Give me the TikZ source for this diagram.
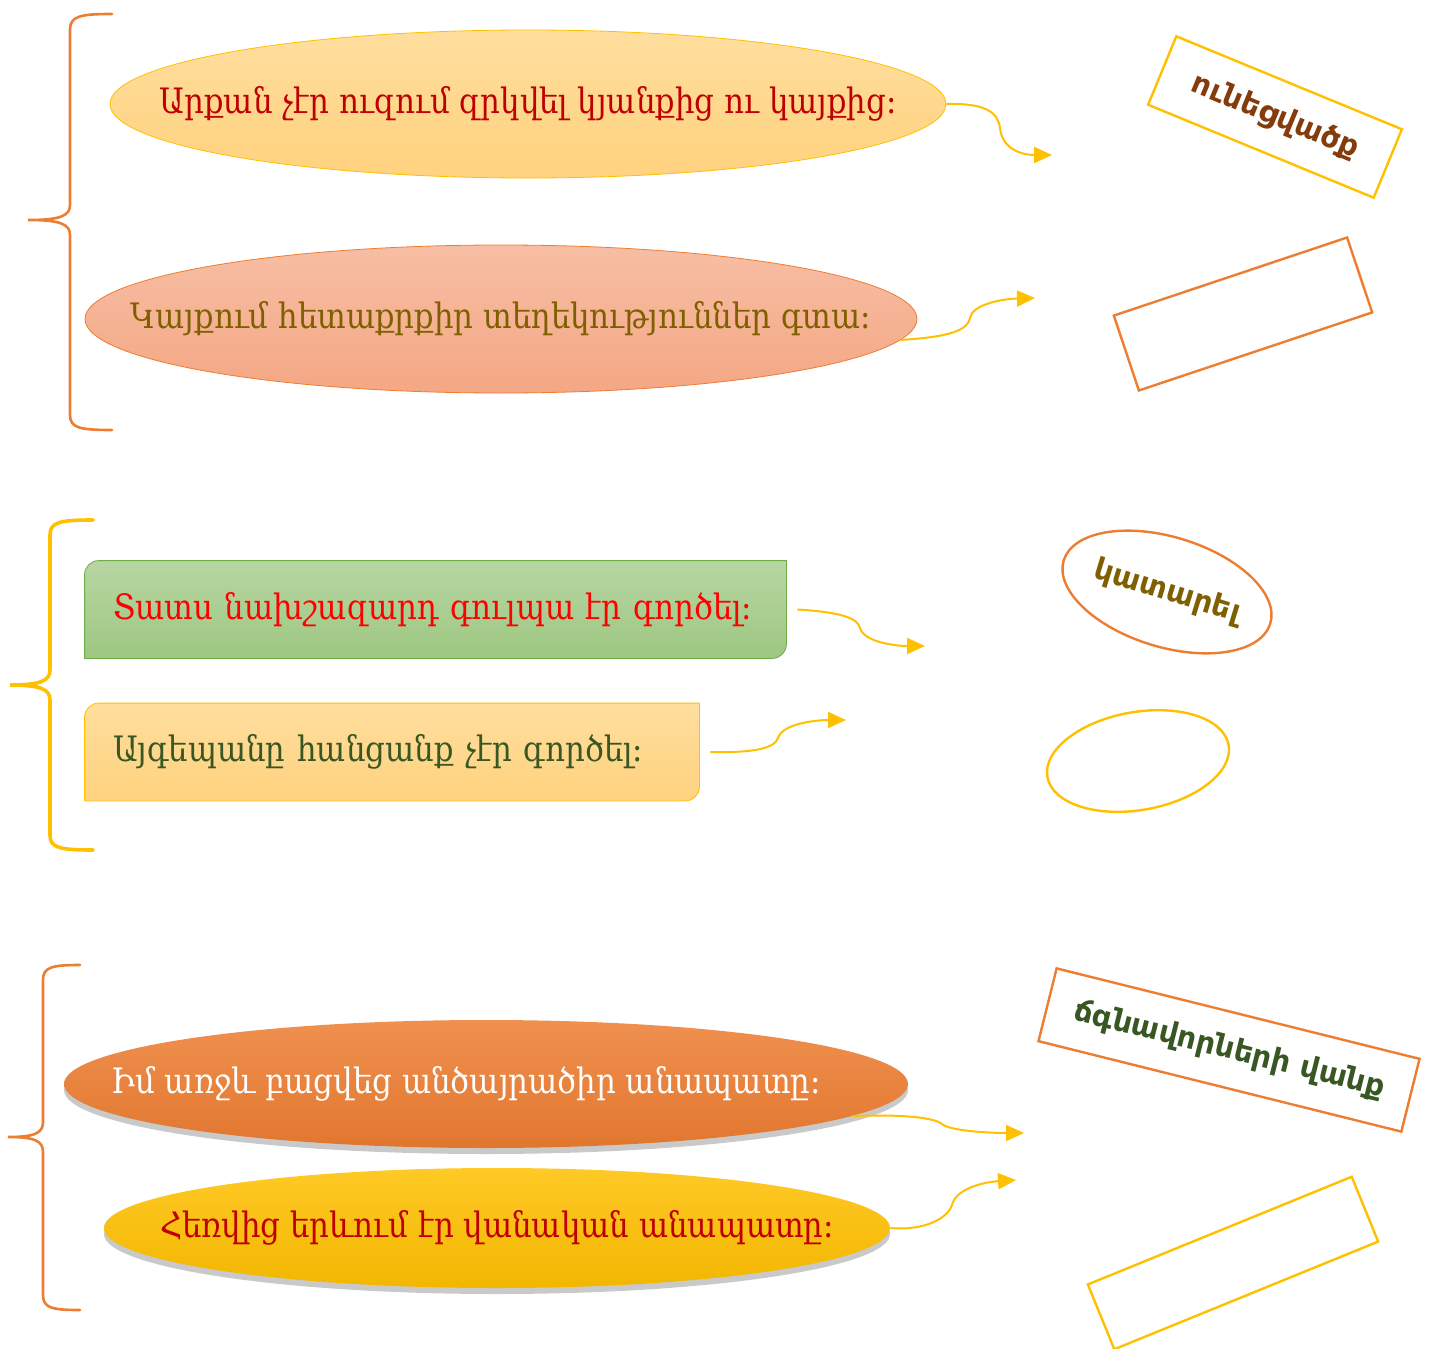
\documentclass[tikz,border=0pt]{standalone}
\usepackage{fontspec}
\setmainfont[FakeStretch=0.88]{DejaVu Serif}
\newfontfamily\labelfont{DejaVu Sans}
\usetikzlibrary{arrows.meta, positioning, shapes.geometric, shadows, backgrounds}
\definecolor{ArmOrange}{HTML}{ED7D31}
\definecolor{ArmGold}{HTML}{FFC000}
\definecolor{ArmGreen}{HTML}{70AD47}
\definecolor{ArmDarkRed}{HTML}{C00000}
\definecolor{ArmOlive}{HTML}{7F6000}
\definecolor{ArmForest}{HTML}{385723}
\definecolor{ArmBrown}{HTML}{843C0C}
\definecolor{SandTop}{HTML}{FFDE9E}
\definecolor{SandBot}{HTML}{FFD27E}
\definecolor{SalmonTop}{HTML}{F7BEA4}
\definecolor{SalmonBot}{HTML}{F4A784}

\begin{document}
\begin{tikzpicture}[x=0.5pt, y=-0.5pt,
    bubble/.style={ellipse, inner xsep=-45pt, inner ysep=0pt, font=\fontsize{17.5}{20}\selectfont},
    plate/.style={rectangle, inner ysep=0pt, inner xsep=14pt, align=left, minimum height=48.5pt, font=\fontsize{17.5}{20}\selectfont},
    tag/.style={rectangle, draw, line width=1.2pt, inner sep=0pt, font=\labelfont\bfseries\fontsize{15}{18}\selectfont},
    brace/.style={line width=1.3pt, line cap=round},
    link/.style={draw=ArmGold, line width=1pt, -{Triangle[length=9pt,width=8pt]}},
    shade/.style={drop shadow={shadow xshift=0pt, shadow yshift=-3pt, opacity=.3, fill=black!70}}
]
\useasboundingbox (0,0) rectangle (1430,1349);

% first group
\draw[brace, ArmOrange] (112,14) .. controls (80,14) and (70,16) .. (70,30) -- (70,205)
  .. controls (70,216) and (60,220) .. (28,220) .. controls (60,220) and (70,224) .. (70,235)
  -- (70,415) .. controls (70,428) and (80,430) .. (112,430);
\node[bubble, draw=ArmGold, top color=SandTop, bottom color=SandBot, minimum width=418pt, minimum height=74pt, text=ArmDarkRed] (e1) at (528,104) {Արքան չէր ուզում զրկվել կյանքից ու կայքից:};
\node[bubble, draw=ArmOrange, top color=SalmonTop, bottom color=SalmonBot, minimum width=416pt, minimum height=74pt, text=ArmOlive] (e2) at (501,319) {Կայքում հետաքրքիր տեղեկություններ գտա:};
\node[tag, draw=ArmGold, text=ArmBrown, minimum width=122pt, minimum height=37pt, rotate=-22.4] (r1) at (1275,117) {ունեցվածք};
\node[tag, draw=ArmOrange, minimum width=123pt, minimum height=39.5pt, rotate=18.5] (r2) at (1243,314) {};
\coordinate (a1) at (1052,155);
\coordinate (a2) at (1035,298);
\draw[link] (e1.east) .. controls (985,103) and (998,112) .. (1000,128) .. controls (1002,148) and (1020,155) .. (a1);
\draw[link] (e2.-3) .. controls (950,337) and (968,330) .. (970,318) .. controls (972,305) and (1000,299) .. (a2);

% second group
\draw[brace, ArmGold, line width=1.8pt] (93,520) .. controls (60,520) and (50,522) .. (50,535) -- (50,670)
  .. controls (50,681) and (40,685) .. (10,685) .. controls (40,685) and (50,689) .. (50,700)
  -- (50,835) .. controls (50,848) and (60,850) .. (93,850);
\node[plate, text width=322.5pt, text=red] (b3) at (435.5,609.5) {Տատս նախշազարդ գուլպա էր գործել:};
\node[plate, text width=279pt, text=ArmForest] (b4) at (392,752) {Այգեպանը հանցանք չէր գործել:};
\begin{scope}[on background layer]
\draw[draw=ArmGreen, top color=ArmGreen!50, bottom color=ArmGreen!68] (b3.south west) -- ([yshift=-7pt]b3.north west)
  arc[start angle=180, end angle=90, radius=7pt] -- (b3.north east) -- ([yshift=7pt]b3.south east)
  arc[start angle=0, end angle=-90, radius=7pt] -- cycle;
\draw[draw=ArmGold, top color=SandTop, bottom color=SandBot] (b4.south west) -- ([yshift=-7pt]b4.north west)
  arc[start angle=180, end angle=90, radius=7pt] -- (b4.north east) -- ([yshift=7pt]b4.south east)
  arc[start angle=0, end angle=-90, radius=7pt] -- cycle;
\end{scope}
\node[tag, ellipse, draw=ArmOrange, text=ArmOlive, minimum width=108pt, minimum height=55pt, rotate=-17] (o3) at (1167,592) {կատարել};
\node[tag, ellipse, draw=ArmGold, minimum width=92pt, minimum height=49pt, rotate=10] (o4) at (1138,761) {};
\coordinate (a3) at (925,646);
\coordinate (a4) at (846,720);
\draw[link] ([xshift=5.5pt]b3.east) .. controls (840,612) and (858,618) .. (860,628) .. controls (864,642) and (895,646) .. (a3);
\draw[link] ([xshift=5.5pt]b4.east) .. controls (755,753) and (775,748) .. (778,738) .. controls (782,724) and (815,720) .. (a4);

% third group
\draw[brace, ArmOrange] (80,965) .. controls (52,965) and (43,967) .. (43,980) -- (43,1122)
  .. controls (43,1133) and (35,1137) .. (8,1137) .. controls (35,1137) and (43,1141) .. (43,1152)
  -- (43,1295) .. controls (43,1308) and (52,1310) .. (80,1310);
\node[bubble, shade, top color=ArmOrange!85, bottom color=ArmOrange!95!black, minimum width=422pt, minimum height=64pt, text=white] (e5) at (486,1084) {Իմ առջև բացվեց անծայրածիր անապատը:\hspace*{20pt}};
\node[bubble, shade, top color=ArmGold!85, bottom color=ArmGold!95!black, minimum width=393pt, minimum height=60pt, text=ArmDarkRed] (e6) at (497,1228) {Հեռվից երևում էր վանական անապատը:};
\node[tag, draw=ArmOrange, text=ArmForest, minimum width=187pt, minimum height=37.5pt, rotate=-14] (r5) at (1229,1050) {ճգնավորների վանք};
\node[tag, draw=ArmGold, minimum width=142.5pt, minimum height=35pt, rotate=22.2] (r6) at (1233,1263) {};
\coordinate (a5) at (1024,1133);
\coordinate (a6) at (1016,1180);
\draw[link] (e5.-5) .. controls (905,1114) and (935,1118) .. (942,1124) .. controls (950,1131) and (990,1133) .. (a5);
\draw[link] (e6.east) .. controls (925,1231) and (948,1218) .. (952,1205) .. controls (956,1188) and (985,1182) .. (a6);
\end{tikzpicture}
\end{document}
